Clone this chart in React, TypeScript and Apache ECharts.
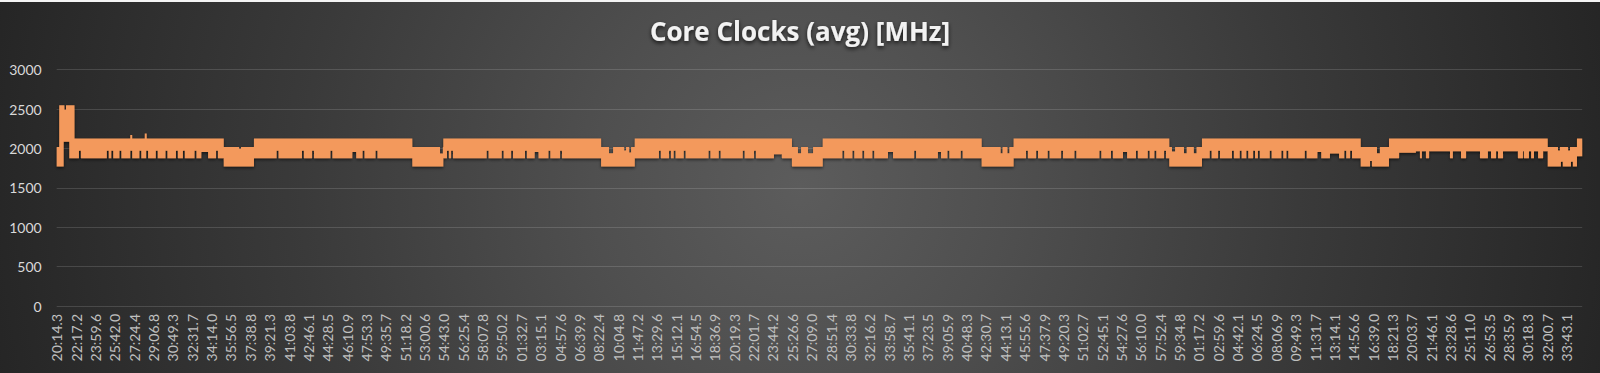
import React, { useEffect, useRef } from 'react';
import * as echarts from 'echarts';

// Category tick labels (one every 100 samples)
const xLabels: string[] = [
  '20:14.3', '22:17.2', '23:59.6', '25:42.0', '27:24.4', '29:06.8', '30:49.3', '32:31.7', '34:14.0', '35:56.5',
  '37:38.8', '39:21.3', '41:03.8', '42:46.1', '44:28.5', '46:10.9', '47:53.3', '49:35.7', '51:18.2', '53:00.6',
  '54:43.0', '56:25.4', '58:07.8', '59:50.2', '01:32.7', '03:15.1', '04:57.6', '06:39.9', '08:22.4', '10:04.8',
  '11:47.2', '13:29.6', '15:12.1', '16:54.5', '18:36.9', '20:19.3', '22:01.7', '23:44.2', '25:26.6', '27:09.0',
  '28:51.4', '30:33.8', '32:16.2', '33:58.7', '35:41.1', '37:23.5', '39:05.9', '40:48.3', '42:30.7', '44:13.1',
  '45:55.6', '47:37.9', '49:20.3', '51:02.7', '52:45.1', '54:27.6', '56:10.0', '57:52.4', '59:34.8', '01:17.2',
  '02:59.6', '04:42.1', '06:24.5', '08:06.9', '09:49.3', '11:31.7', '13:14.1', '14:56.6', '16:39.0', '18:21.3',
  '20:03.7', '21:46.1', '23:28.6', '25:11.0', '26:53.5', '28:35.9', '30:18.3', '32:00.7', '33:43.1',
];
const SAMPLES_PER_LABEL = 100;
const LAST_SAMPLE = 7880;

// Envelope of the (dense, oscillating) clock trace, per segment [MHz]
const segStart = [0, 13, 36, 65, 92, 863, 1019, 1837, 1997, 2812, 2986, 3798, 3957, 4778, 4943, 5747, 5916, 6736, 6882, 7702, 7853];
const segEnd = [13, 36, 65, 92, 863, 1019, 1837, 1997, 2812, 2986, 3798, 3957, 4778, 4943, 5747, 5916, 6736, 6882, 7702, 7853, 7880];
const segHigh = [2020, 2550, 2550, 2550, 2125, 2020, 2125, 2020, 2125, 2020, 2125, 2020, 2125, 2020, 2125, 2020, 2125, 2020, 2125, 2020, 2125];
const segLow = [1770, 1770, 2086, 1875, 1875, 1770, 1875, 1770, 1875, 1770, 1875, 1770, 1875, 1770, 1875, 1770, 1875, 1770, 1965, 1770, 1900];

// Local excursions of the upper envelope: [start, end, value]
const highExcursions: [number, number, number][] = [
  [40, 48, 2490], [380, 390, 2170], [455, 465, 2190], [942, 952, 1995], [1980, 1995, 1935],
  [2853, 2874, 1940], [2931, 2941, 1975], [2957, 2967, 1950], [3829, 3845, 1938], [3881, 3907, 1938],
  [4876, 4886, 1938], [4911, 4921, 1938], [5761, 5777, 1960], [5823, 5837, 1938], [5874, 5888, 1938],
  [6820, 6835, 1938], [7755, 7765, 1975], [7807, 7817, 1975],
];

// Local excursions of the lower envelope: [start, end, value]
const lowExcursions: [number, number, number][] = [
  [115, 125, 1970], [259, 269, 1970], [282, 292, 1970], [324, 334, 1970], [380, 390, 1970], [427, 437, 1970],
  [462, 472, 1970], [512, 522, 1970], [562, 572, 1970], [616, 626, 1970], [652, 662, 1970], [712, 722, 1970],
  [747, 782, 1955], [823, 833, 1970],
  [1136, 1146, 1970], [1267, 1277, 1970], [1319, 1329, 1970], [1414, 1424, 1970], [1527, 1547, 1955],
  [1580, 1590, 1970], [1647, 1657, 1970],
  [2016, 2026, 1970], [2037, 2047, 1970], [2221, 2231, 1970], [2299, 2309, 1970], [2347, 2357, 1970],
  [2419, 2429, 1970], [2469, 2489, 1955], [2540, 2550, 1970], [2600, 2610, 1970],
  [3111, 3121, 1970], [3163, 3173, 1970], [3187, 3197, 1970], [3239, 3249, 1970], [3367, 3377, 1970],
  [3420, 3430, 1970], [3544, 3554, 1970], [3602, 3612, 1970], [3705, 3746, 1925],
  [4058, 4068, 1970], [4110, 4120, 1970], [4161, 4171, 1970], [4213, 4223, 1970], [4294, 4320, 1955],
  [4429, 4439, 1970], [4552, 4568, 1955], [4601, 4611, 1970], [4670, 4680, 1970],
  [5007, 5017, 1970], [5059, 5069, 1970], [5119, 5129, 1970], [5188, 5198, 1970], [5257, 5267, 1970],
  [5386, 5396, 1970], [5446, 5456, 1970], [5508, 5529, 1955], [5575, 5585, 1970], [5636, 5646, 1970],
  [5670, 5680, 1970], [5720, 5730, 1970],
  [5956, 5966, 1970], [5999, 6009, 1970], [6071, 6081, 1970], [6111, 6121, 1970], [6145, 6155, 1970],
  [6180, 6190, 1970], [6205, 6215, 1970], [6266, 6276, 1970], [6326, 6336, 1970], [6352, 6362, 1970],
  [6447, 6457, 1970], [6512, 6532, 1955], [6577, 6624, 1935], [6651, 6661, 1970], [6681, 6691, 1970],
  [6784, 6794, 1840],
  [6882, 6934, 1875], [6934, 7021, 1945], [7042, 7052, 1875], [7073, 7089, 1875], [7197, 7212, 1875],
  [7254, 7280, 1875], [7352, 7393, 1875], [7409, 7435, 1875], [7445, 7471, 1875], [7548, 7574, 1875],
  [7579, 7605, 1875], [7616, 7631, 1875], [7652, 7678, 1875],
  [7770, 7780, 1830], [7822, 7832, 1830],
];

const yTicks = [0, 500, 1000, 1500, 2000, 2500, 3000];

function buildEdge(levels: number[], excursions: [number, number, number][]): number[][] {
  const pts: number[][] = [];
  for (let i = 0; i < segStart.length; i++) {
    const s = segStart[i];
    const e = segEnd[i];
    const b = levels[i];
    pts.push([s, b]);
    excursions
      .filter((d) => d[0] >= s && d[0] < e)
      .sort((a, c) => a[0] - c[0])
      .forEach((d) => {
        pts.push([d[0], b], [d[0], d[2]], [d[1], d[2]], [d[1], b]);
      });
    pts.push([e, b]);
  }
  return pts;
}

export default function App() {
  const ref = useRef<HTMLDivElement>(null);

  useEffect(() => {
    document.body.style.margin = '0';
    if (!ref.current) return;
    const chart = echarts.init(ref.current, undefined, { renderer: 'svg' });
    const font = 'Lato, "Open Sans", sans-serif';
    const upper = buildEdge(segHigh, highExcursions);
    const lower = buildEdge(segLow, lowExcursions);

    chart.setOption({
      animation: false,
      backgroundColor: new echarts.graphic.RadialGradient(800, 186, 830, [
        { offset: 0, color: '#5c5c5c' },
        { offset: 0.25, color: '#4f4f4f' },
        { offset: 0.6, color: '#3a3a3a' },
        { offset: 1, color: '#252525' },
      ], true),
      title: {
        text: 'Core Clocks (avg) [MHz]',
        left: 'center',
        top: 13,
        textStyle: {
          color: '#f2f2f2',
          fontFamily: '"Open Sans", Lato, sans-serif',
          fontSize: 26,
          fontWeight: 'bold',
          textShadowColor: 'rgba(0,0,0,0.75)',
          textShadowBlur: 4,
          textShadowOffsetY: 2,
        },
      },
      graphic: [
        { type: 'rect', left: 0, top: 0, shape: { width: 1600, height: 2 }, style: { fill: '#f4f4f4' } },
      ],
      grid: { left: 56.7, right: 17.8, top: 69.7, bottom: 67 },
      xAxis: {
        type: 'value',
        min: 0,
        max: LAST_SAMPLE,
        interval: SAMPLES_PER_LABEL,
        axisLine: { show: false },
        axisTick: { show: false },
        splitLine: { show: false },
        axisLabel: {
          rotate: 90,
          margin: 8,
          color: '#c0c0c0',
          fontFamily: font,
          fontSize: 14,
          showMaxLabel: false,
          formatter: (v: number) => {
            const idx = Math.round(v / SAMPLES_PER_LABEL);
            if (Math.abs(v - idx * SAMPLES_PER_LABEL) > 1e-6) return '';
            return xLabels[idx] ?? '';
          },
        },
      },
      yAxis: {
        type: 'value',
        min: yTicks[0],
        max: yTicks[yTicks.length - 1],
        interval: yTicks[1] - yTicks[0],
        axisLine: { show: false },
        axisTick: { show: false },
        splitLine: { lineStyle: { color: 'rgba(255,255,255,0.14)', width: 1 } },
        axisLabel: {
          color: '#d9d9d9',
          fontFamily: font,
          fontSize: 14,
          margin: 15,
          formatter: (v: number) => String(v),
        },
      },
      series: [
        {
          type: 'custom',
          name: 'Core Clocks (avg)',
          coordinateSystem: 'cartesian2d',
          data: [[0, 0]],
          renderItem: (_params: any, api: any) => {
            const pts = upper.concat(lower.slice().reverse()).map((p) => api.coord(p));
            return {
              type: 'polygon',
              shape: { points: pts },
              style: {
                fill: '#f3995b',
                shadowBlur: 3,
                shadowColor: 'rgba(0,0,0,0.6)',
                shadowOffsetY: 1.5,
              },
            };
          },
        },
      ],
    });

    return () => chart.dispose();
  }, []);

  return <div ref={ref} style={{ width: 1600, height: 373, background: '#333' }} />;
}
